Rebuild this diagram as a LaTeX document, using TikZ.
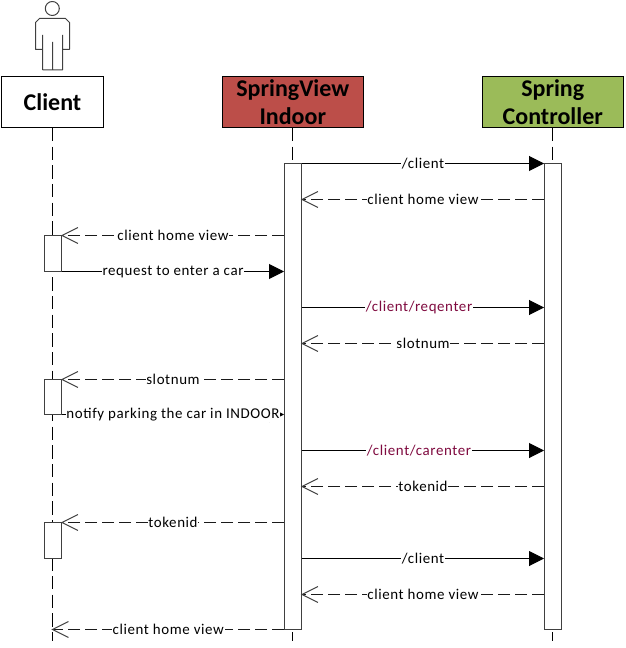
\documentclass[tikz,border=0pt]{standalone}
\usepackage{fontspec}
\setmainfont{Carlito}
\usetikzlibrary{arrows.meta}
\definecolor{svred}{HTML}{BC4E49}
\definecolor{scgreen}{HTML}{9BBB59}
\definecolor{barline}{HTML}{404040}
\definecolor{replyline}{HTML}{1A1A1A}
\definecolor{pathred}{HTML}{7F0A3F}
\tikzset{
  x=0.75pt,y=-0.75pt,
  headbox/.style={draw=black,line width=0.75pt,minimum height=38.25pt,inner sep=0pt,align=center,font=\fontsize{18}{21}\selectfont\bfseries},
  actbar/.style={draw=barline,fill=white,line width=0.75pt,minimum width=12.75pt,inner sep=0pt},
  lifeline/.style={line width=0.8pt,dash pattern=on 10pt off 4pt},
  sync/.style={line width=0.75pt,-{Triangle[length=11.25pt,width=11.25pt]}},
  reply/.style={draw=replyline,line width=0.8pt,dash pattern=on 9pt off 3.75pt,shorten >=-0.9pt,-{Straight Barb[length=12pt,width=12pt,line width=0.75pt,color=barline]}},
  lab/.style={fill=white,inner sep=0.6pt,text=black,font=\fontsize{11.2}{13}\selectfont\addfontfeatures{LetterSpace=4}},
  pathlab/.style={lab,text=pathred,xshift=-3pt},
  actorline/.style={draw=barline,line width=0.75pt,line join=round}
}
\begin{document}
\begin{tikzpicture}
\useasboundingbox (0,0) rectangle (625,648);
% message rows
\foreach \n/\y in {1/163.5,2/199.5,3/235.5,4/271.5,5/307.5,6/343.5,7/379.5,8/414.5,9/450.5,10/486.5,11/522.5,12/558.5,13/594.5,14/629.5}
  \coordinate (y\n) at (0,\y);
% heads
\node[headbox,minimum width=76.5pt] (client) at (52.5,102) {Client};
\node[headbox,minimum width=106pt,fill=svred] (sv) at (292.75,102) {SpringView\\Indoor};
\node[headbox,minimum width=106pt,fill=scgreen] (sc) at (552.75,102) {Spring\\Controller};
\coordinate (clientend) at (52.5,641);
\coordinate (svend) at (292.75,641);
\coordinate (scend) at (552.75,641);
% lifelines
\draw[lifeline] (client.south) -- (clientend);
\draw[lifeline] (sv.south) -- (svend);
\draw[lifeline] (sc.south) -- (scend);
% activation bars
\node[actbar,minimum height=349.5pt] (svbar) at (293,396.5) {};
\node[actbar,minimum height=349.5pt] (scbar) at (553,396.5) {};
\node[actbar,minimum height=27pt] (ca) at (53,253.5) {};
\node[actbar,minimum height=26.25pt] (cb) at (53,397) {};
\node[actbar,minimum height=27pt] (cc) at (53,540.5) {};
% messages
\draw[sync] (svbar.east |- y1) -- node[lab]{/client} (scbar.west |- y1);
\draw[reply] (scbar.west |- y2) -- node[lab]{client home view} (svbar.east |- y2);
\draw[reply] (svbar.west |- y3) -- node[lab]{client home view} (ca.east |- y3);
\draw[sync] (ca.east |- y4) -- node[lab]{request to enter a car} (svbar.west |- y4);
\draw[sync] (svbar.east |- y5) -- node[pathlab]{/client/reqenter} (scbar.west |- y5);
\draw[reply] (scbar.west |- y6) -- node[lab]{slotnum} (svbar.east |- y6);
\draw[reply] (svbar.west |- y7) -- node[lab]{slotnum} (cb.east |- y7);
\draw[sync] (cb.east |- y8) -- node[lab]{notify parking the car in INDOOR} (svbar.west |- y8);
\draw[sync] (svbar.east |- y9) -- node[pathlab]{/client/carenter} (scbar.west |- y9);
\draw[reply] (scbar.west |- y10) -- node[lab]{tokenid} (svbar.east |- y10);
\draw[reply] (svbar.west |- y11) -- node[lab]{tokenid} (cc.east |- y11);
\draw[sync] (svbar.east |- y12) -- node[lab]{/client} (scbar.west |- y12);
\draw[reply] (scbar.west |- y13) -- node[lab]{client home view} (svbar.east |- y13);
\draw[reply] (svbar.west |- y14) -- node[lab]{client home view} (clientend |- y14);
% actor
\draw[actorline] (52.3,8.5) circle (7);
\draw[actorline] (42.5,70) -- (42.5,35) (42.5,49.5) -- (35.5,49.5) -- (35.5,22.5) -- (39.5,18.5) -- (65.5,18.5) -- (69.5,22.5) -- (69.5,49.5) -- (62.5,49.5) (62.5,35) -- (62.5,70) -- (42.5,70) (52.5,42) -- (52.5,70);
\end{tikzpicture}
\end{document}
